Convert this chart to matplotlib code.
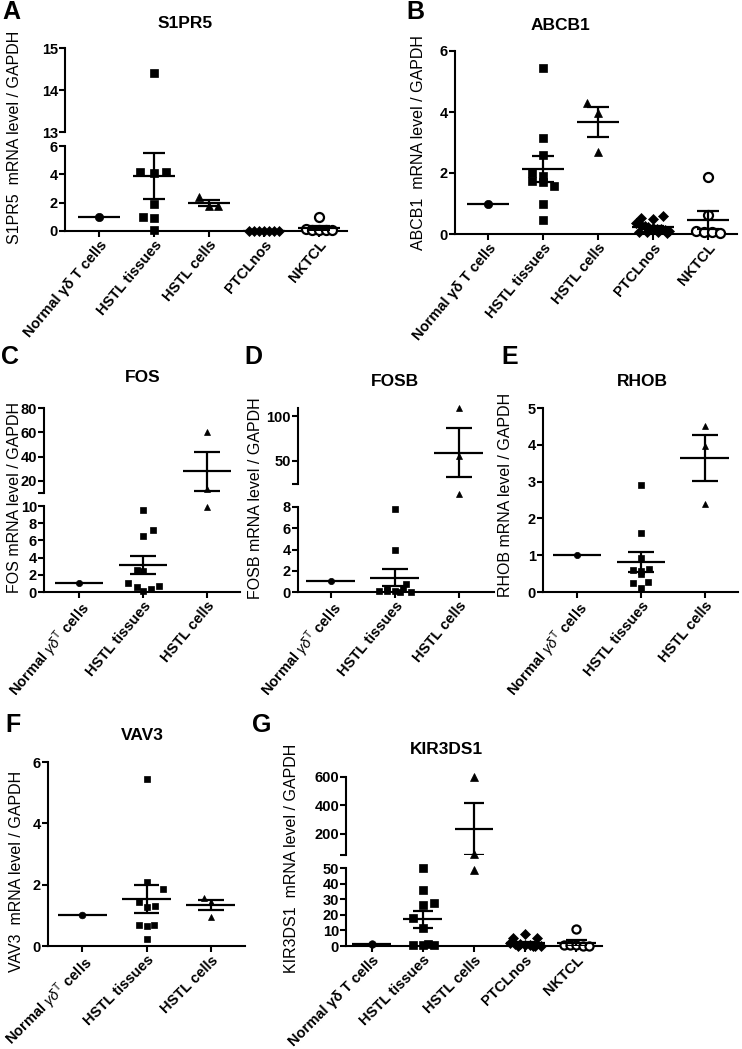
import numpy as np
import matplotlib
matplotlib.use('Agg')
import matplotlib.pyplot as plt

plt.rcParams['font.family'] = ['Liberation Sans', 'DejaVu Sans']
plt.rcParams['mathtext.fontset'] = 'custom'
plt.rcParams['mathtext.it'] = 'Liberation Sans:italic'
plt.rcParams['mathtext.rm'] = 'Liberation Sans'

W, H = 742, 1049

cats5 = ['Normal γδ T cells', 'HSTL tissues', 'HSTL cells', 'PTCLnos', 'NKTCL']
cats3 = ['Normal $\\gamma\\delta^{\\rm T}$ cells', 'HSTL tissues', 'HSTL cells']

# ---- A: S1PR5
s1pr5_normal = [1.0]
s1pr5_tissues = [14.4, 4.2, 4.1, 4.2, 1.9, 1.0, 0.95, 0.1]
s1pr5_cells = [2.4, 1.75, 1.8]
s1pr5_ptcl = [0.02, 0.01, 0.03, 0.0, 0.02, 0.01, 0.03]
s1pr5_nktcl = [1.0, 0.12, 0.08, 0.05, 0.1, 0.06]
s1pr5_mean = [1.0, 3.86, 2.0, 0.02, 0.2]
s1pr5_sem = [0, 1.62, 0.22, 0.0, 0.12]

# ---- B: ABCB1
abcb1_normal = [1.0]
abcb1_tissues = [5.45, 3.15, 2.6, 2.0, 1.9, 1.75, 1.7, 1.58, 0.97, 0.47]
abcb1_cells = [4.3, 3.98, 2.68]
abcb1_ptcl = [0.52, 0.48, 0.6, 0.35, 0.3, 0.25, 0.22, 0.2, 0.18, 0.15, 0.12, 0.1, 0.08, 0.06, 0.05, 0.04]
abcb1_nktcl = [1.86, 0.63, 0.1, 0.06, 0.05, 0.02]
abcb1_mean = [1.0, 2.14, 3.67, 0.22, 0.45]
abcb1_sem = [0, 0.43, 0.5, 0.05, 0.29]

# ---- C: FOS
fos_normal = [1.0]
fos_tissues = [9.5, 7.2, 6.5, 2.6, 2.4, 1.1, 0.6, 0.1, 0.4, 0.7]
fos_cells = [60.4, 13.5, 9.9]
fos_mean = [1.0, 3.1, 27.8]
fos_sem = [0, 1.05, 16.2]

# ---- D: FOSB
fosb_normal = [1.0]
fosb_tissues = [7.85, 4.0, 0.75, 0.3, 0.3, 0.1, 0.05, 0.05, 0.02, 0.0]
fosb_cells = [108.6, 55.0, 12.7]
fosb_mean = [1.0, 1.34, 58.8]
fosb_sem = [0, 0.8, 27.3]

# ---- E: RHOB
rhob_normal = [1.0]
rhob_tissues = [2.9, 1.6, 0.92, 0.6, 0.58, 0.62, 0.5, 0.25, 0.27, 0.12]
rhob_cells = [4.5, 3.98, 2.4]
rhob_mean = [1.0, 0.81, 3.64]
rhob_sem = [0, 0.27, 0.62]

# ---- F: VAV3
vav3_normal = [1.0]
vav3_tissues = [5.46, 2.1, 1.87, 1.44, 1.28, 1.3, 0.68, 0.66, 0.68, 0.23]
vav3_cells = [1.55, 1.45, 0.95]
vav3_mean = [1.0, 1.53, 1.33]
vav3_sem = [0, 0.47, 0.17]

# ---- G: KIR3DS1
kir_normal = [1.0]
kir_tissues = [49.8, 35.7, 27.7, 26.0, 17.7, 11.3, 0.8, 0.5, 1.5, 0.6]
kir_cells = [600.0, 56.5, 48.5]
kir_ptcl = [5.3, 7.4, 4.9, 2.0, 1.5, 1.0, 0.8, 0.5, 0.3, 0.2, 0.1, 0.05]
kir_nktcl = [11.1, 0.8, 0.5, 0.4, 0.2, 0.1]
kir_mean = [1.0, 17.2, 235.0, 1.9, 2.0]
kir_sem = [0, 5.4, 182.0, 0.7, 1.8]

# jitter offsets (category units)
s1pr5_dx = [[0], [0, -0.25, 0, 0.22, 0, -0.2, 0, 0], [-0.18, 0, 0.17],
            [-0.27, -0.18, -0.09, 0, 0.09, 0.18, 0.27], [0, -0.24, -0.12, 0, 0.12, 0.24]]
abcb1_dx = [[0], [0, 0, 0, -0.2, 0, -0.2, 0, 0.21, 0, 0], [-0.19, 0, 0],
            [-0.21, 0, 0.18, -0.3, -0.22, -0.15, -0.08, 0, 0.08, 0.15, 0.22, 0.3, -0.1, 0.1, -0.25, 0.25],
            [0, 0, -0.22, -0.07, 0.08, 0.22]]
fos_dx = [[0], [0, 0.15, 0, -0.1, 0, -0.23, -0.1, 0, 0.13, 0.25], [0, 0, 0]]
fosb_dx = [[0], [0, 0, 0.17, -0.12, 0.13, 0, -0.25, -0.12, 0.08, 0.26], [0, 0, 0]]
rhob_dx = [[0], [0, 0, 0, -0.13, 0, 0.13, 0, -0.13, 0.12, 0], [0, 0, 0]]
vav3_dx = [[0], [0, 0, 0.26, -0.11, 0, 0.13, -0.11, 0, 0.12, 0], [-0.11, 0, 0]]
kir_dx = [[0], [0, 0, 0.21, 0, -0.2, 0, -0.2, 0, 0.11, 0.21], [0, 0, 0],
          [-0.24, 0, 0.23, -0.3, -0.2, -0.1, 0, 0.1, 0.2, 0.3, -0.15, 0.15],
          [0, -0.24, -0.12, 0, 0.12, 0.24]]

markers = [('o', 'k'), ('s', 'k'), ('^', 'k'), ('D', 'k'), ('o', 'w')]
msizes = [6, 6, 6, 5.5, 6.5]


def px_axes(fig, x0, y0, x1, y1):
    return fig.add_axes([x0 / W, 1 - y1 / H, (x1 - x0) / W, (y1 - y0) / H])


def style(ax, bottom=True):
    for s in ['top', 'right']:
        ax.spines[s].set_visible(False)
    ax.spines['left'].set_linewidth(1.5)
    ax.spines['bottom'].set_linewidth(1.5)
    if not bottom:
        ax.spines['bottom'].set_visible(False)
        ax.set_xticks([])
    ax.tick_params(direction='out', length=4, width=1.5, labelsize=10.5, pad=1)
    ax.patch.set_alpha(0)


def panel(fig, box, xlim, ylim, yticks, groups, dxs, means, sems, cats,
          upper_box=None, upper_ylim=None, upper_ticks=None, upper_labels=None,
          msc=1.0, catsize=10, rot=50):
    lo = px_axes(fig, *box)
    axes = [lo]
    up = None
    if upper_box is not None:
        up = px_axes(fig, *upper_box)
        axes.append(up)
    lo.set_xlim(xlim)
    lo.set_ylim(ylim)
    lo.set_yticks(yticks)
    lo.set_xticks(range(len(cats)))
    lo.set_xticklabels(cats, rotation=rot, ha='right', rotation_mode='anchor',
                       fontweight='bold', fontsize=catsize)
    style(lo)
    for lab in lo.get_yticklabels():
        lab.set_fontweight('bold')
    if up is not None:
        up.set_xlim(xlim)
        up.set_ylim(upper_ylim)
        up.set_yticks(upper_ticks)
        up.set_yticklabels(upper_labels)
        style(up, bottom=False)
        for lab in up.get_yticklabels():
            lab.set_fontweight('bold')
    for i, (vals, dx) in enumerate(zip(groups, dxs)):
        m, fc = markers[i]
        for v, d in zip(vals, dx):
            target = up if (up is not None and v > ylim[1]) else lo
            target.plot(i + d, v, marker=m, ms=msizes[i] * msc, mfc=fc, mec='k',
                        mew=1.6 if fc == 'w' else 0.5, ls='none', clip_on=False, zorder=3)
        for ax in axes:
            ax.hlines(means[i], i - 0.38, i + 0.38, color='k', lw=1.6, zorder=4)
            if sems[i] > 0:
                ax.vlines(i, means[i] - sems[i], means[i] + sems[i], color='k', lw=1.6, zorder=4)
                ax.hlines([means[i] - sems[i], means[i] + sems[i]], i - 0.2, i + 0.2,
                          color='k', lw=1.6, zorder=4)
    return lo


def labels(fig, letter, lxy, title, txy, ylab, yx, yy):
    fig.text(lxy[0] / W, 1 - lxy[1] / H, letter, fontsize=18, fontweight='bold',
             ha='center', va='center')
    fig.text(txy[0] / W, 1 - txy[1] / H, title, fontsize=12.5, fontweight='bold',
             ha='center', va='center')
    fig.text(yx / W, 1 - yy / H, ylab, fontsize=11.5, rotation=90, ha='center', va='center')


fig = plt.figure(figsize=(W / 100, H / 100), dpi=100)

# A
panel(fig, (65, 146, 347, 231), (-0.62, 4.51), (0, 6), [0, 2, 4, 6],
      [s1pr5_normal, s1pr5_tissues, s1pr5_cells, s1pr5_ptcl, s1pr5_nktcl],
      s1pr5_dx, s1pr5_mean, s1pr5_sem, cats5,
      upper_box=(65, 48, 347, 132), upper_ylim=(13, 15), upper_ticks=[13, 14, 15],
      upper_labels=['13', '14', '15'])
labels(fig, 'A', (11, 12), 'S1PR5', (185, 23), 'S1PR5  mRNA level / GAPDH', 15, 137)

# B
panel(fig, (455, 51, 737, 234), (-0.6, 4.53), (0, 6), [0, 2, 4, 6],
      [abcb1_normal, abcb1_tissues, abcb1_cells, abcb1_ptcl, abcb1_nktcl],
      abcb1_dx, abcb1_mean, abcb1_sem, cats5)
labels(fig, 'B', (415, 12), 'ABCB1', (560, 25), 'ABCB1  mRNA level / GAPDH', 418, 143)

# C
panel(fig, (44, 506, 240, 592), (-0.55, 2.52), (0, 10), [0, 2, 4, 6, 8, 10],
      [fos_normal, fos_tissues, fos_cells], fos_dx, fos_mean, fos_sem, cats3,
      upper_box=(44, 408, 240, 493), upper_ylim=(10, 80), upper_ticks=[10, 20, 40, 60, 80],
      upper_labels=['', '20', '40', '60', '80'], msc=0.75)
labels(fig, 'C', (10, 357), 'FOS', (143, 378), 'FOS mRNA level / GAPDH', 15, 497)

# D
panel(fig, (298, 507, 494, 592), (-0.51, 2.55), (0, 8), [0, 2, 4, 6, 8],
      [fosb_normal, fosb_tissues, fosb_cells], fosb_dx, fosb_mean, fosb_sem, cats3,
      upper_box=(298, 408, 494, 484), upper_ylim=(24, 109), upper_ticks=[24, 50, 100],
      upper_labels=['', '50', '100'], msc=0.75)
labels(fig, 'D', (253, 357), 'FOSB', (395, 382), 'FOSB mRNA level / GAPDH', 255, 498)

# E
panel(fig, (543, 408, 738, 592), (-0.53, 2.52), (0, 5), [0, 1, 2, 3, 4, 5],
      [rhob_normal, rhob_tissues, rhob_cells], rhob_dx, rhob_mean, rhob_sem, cats3,
      msc=0.75)
labels(fig, 'E', (510, 357), 'RHOB', (642, 382), 'RHOB mRNA level / GAPDH', 506, 495)

# F
panel(fig, (48, 762, 245, 946), (-0.53, 2.53), (0, 6), [0, 2, 4, 6],
      [vav3_normal, vav3_tissues, vav3_cells], vav3_dx, vav3_mean, vav3_sem, cats3,
      msc=0.8, catsize=8.8, rot=45)
labels(fig, 'F', (13, 725), 'VAV3', (142, 735), 'VAV3  mRNA level / GAPDH', 17, 871)

# G
panel(fig, (346, 868, 602, 946), (-0.5, 4.5), (0, 50), [0, 10, 20, 30, 40, 50],
      [kir_normal, kir_tissues, kir_cells, kir_ptcl, kir_nktcl],
      kir_dx, kir_mean, kir_sem, cats5,
      upper_box=(346, 777, 602, 855), upper_ylim=(50, 600), upper_ticks=[50, 200, 400, 600],
      upper_labels=['', '200', '400', '600'], msc=0.9, catsize=8.2, rot=45)
labels(fig, 'G', (262, 725), 'KIR3DS1', (446, 750), 'KIR3DS1  mRNA level / GAPDH', 292, 858)

fig.savefig('out.png', dpi=100)
